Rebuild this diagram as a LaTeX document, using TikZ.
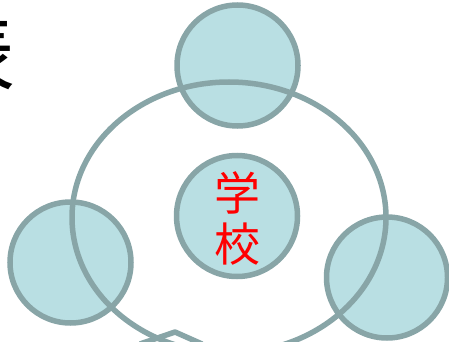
\documentclass[tikz,border=0pt]{standalone}
\usepackage{fontspec}
\newfontfamily\cjk{Noto Sans CJK JP}
\definecolor{ringfill}{HTML}{B9DFE3}
\definecolor{ringline}{HTML}{88A5A7}
\begin{document}
\begin{tikzpicture}[x=1pt,y=-1pt,
  ring/.style={circle, draw=ringline, fill=ringfill, line width=5.5pt, minimum size=121pt, inner sep=0pt},
  outline/.style={draw=ringline, line width=5.5pt, line join=round}]
\useasboundingbox (0,0) rectangle (449,342);
\begin{scope}
\clip (0,0) rectangle (449,342);
\node[anchor=east, inner sep=0pt, font=\cjk\fontsize{82}{82}\selectfont] (title) at (16,52) {表};
\node[ring] (top) at (237.5,65.5) {};
\node[ring] (center) at (237,216) {};
\node[ring] (left) at (70.5,262.5) {};
\node[ring] (right) at (387,277.5) {};
\coordinate (ec) at (229,217.5);
\draw[outline] (ec) ellipse [x radius=157pt, y radius=135.5pt];
\coordinate (pl) at (140,344);
\coordinate (pk) at (175,332);
\coordinate (pr) at (202,344);
\draw[outline] (pl) -- (pk) -- (pr);
\node[text=red, font=\cjk\fontsize{46}{51}\selectfont, align=center, inner sep=0pt] (label) at (237,218) {学\\校};
\end{scope}
\end{tikzpicture}
\end{document}
